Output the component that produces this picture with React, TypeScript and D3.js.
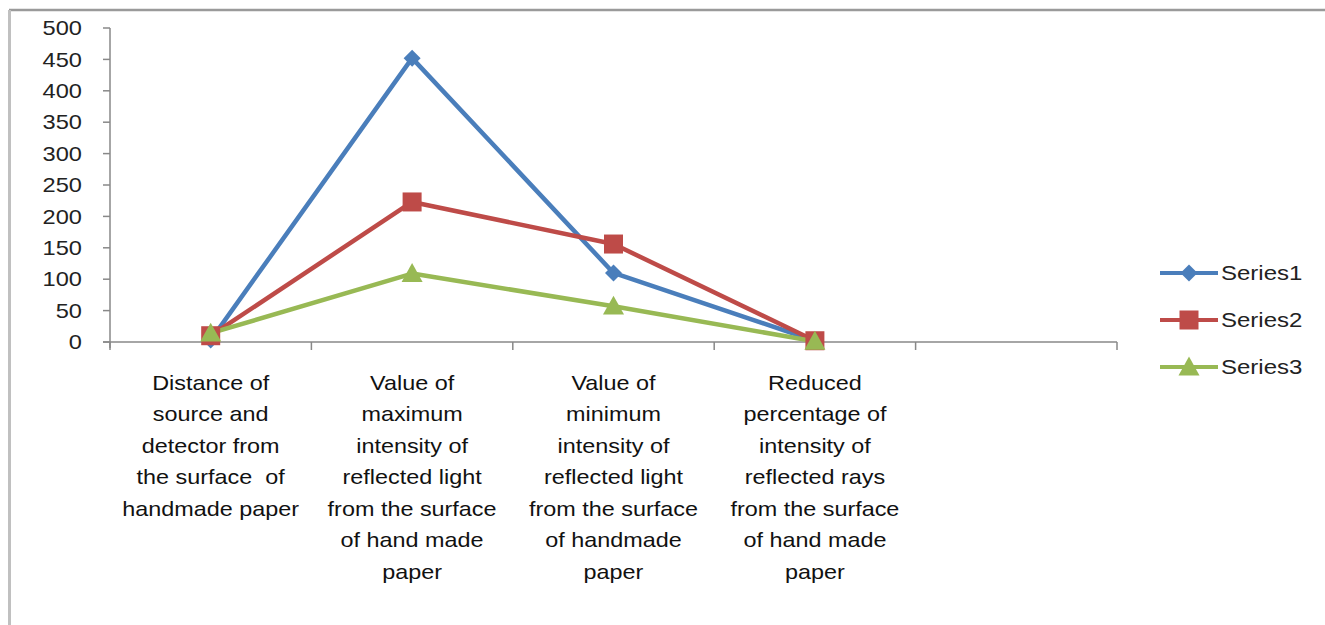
import React from "react";
import * as d3 from "d3";

const categories: string[][] = [
  ["Distance of", "source and", "detector from", "the surface  of", "handmade paper"],
  ["Value of", "maximum", "intensity of", "reflected light", "from the surface", "of hand made", "paper"],
  ["Value of", "minimum", "intensity of", "reflected light", "from the surface", "of handmade", "paper"],
  ["Reduced", "percentage of", "intensity of", "reflected rays", "from the surface", "of hand made", "paper"],
  [],
];
const series1 = [3, 452, 110, 2];
const series2 = [10, 223, 156, 2];
const series3 = [14, 109, 57, 1];
const seriesNames = ["Series1", "Series2", "Series3"];
const colors = ["#4A7EBB", "#BE4B48", "#98B954"];
const yTicks = [0, 50, 100, 150, 200, 250, 300, 350, 400, 450, 500];

const W = 1325, H = 625;
const left = 110, right = 1117, top = 28, bottom = 342;

function Marker({ kind, x, y, color }: { kind: number; x: number; y: number; color: string }) {
  if (kind === 0) {
    const s = 8.5;
    return <path d={`M${x},${y - s}L${x + s},${y}L${x},${y + s}L${x - s},${y}Z`} fill={color} />;
  }
  if (kind === 1) {
    const s = 9.5;
    return <rect x={x - s} y={y - s} width={2 * s} height={2 * s} fill={color} />;
  }
  const s = 10.5;
  return <path d={`M${x},${y - s}L${x + s},${y + s * 0.8}L${x - s},${y + s * 0.8}Z`} fill={color} />;
}

export default function App() {
  const x = d3.scaleBand<number>().domain(d3.range(categories.length)).range([left, right]).paddingInner(0).paddingOuter(0);
  const y = d3.scaleLinear().domain([0, 500]).range([bottom, top]);
  const all = [series1, series2, series3];
  const line = d3.line<number>().x((_, i) => (x(i) as number) + x.bandwidth() / 2).y((d) => y(d));
  const font = "'Liberation Sans', Arial, sans-serif";
  const boundaries = d3.range(categories.length + 1).map((i) => left + i * x.bandwidth());
  return (
    <svg width={W} height={H} style={{ position: "absolute", left: 0, top: 0 }} fontFamily={font}>
      <rect x={0} y={0} width={W} height={H} fill="#fff" />
      <line x1={9} y1={10} x2={W} y2={10} stroke="#9a9a9a" strokeWidth={2.5} />
      <line x1={9.5} y1={10} x2={9.5} y2={H} stroke="#c0c0c0" strokeWidth={3} />
      {/* y axis */}
      <line x1={left} y1={top} x2={left} y2={bottom + 6} stroke="#888" strokeWidth={1.5} />
      {yTicks.map((t) => (
        <g key={t}>
          <line x1={left - 7} x2={left} y1={y(t)} y2={y(t)} stroke="#888" strokeWidth={1.5} />
          <text x={82} y={y(t)} dy="0.36em" textAnchor="end" fontSize={20} fill="#222"
            transform={`translate(82,0) scale(1.18,1) translate(-82,0)`}>{t}</text>
        </g>
      ))}
      {/* x axis */}
      <line x1={left - 7} y1={bottom} x2={right} y2={bottom} stroke="#888" strokeWidth={1.5} />
      {boundaries.map((b, i) => (
        <line key={i} x1={b} x2={b} y1={bottom} y2={bottom + 8} stroke="#888" strokeWidth={1.5} />
      ))}
      {categories.map((lines, i) => {
        const cx = (x(i) as number) + x.bandwidth() / 2;
        return (
          <text key={i} textAnchor="middle" fontSize={20} fill="#111"
            transform={`translate(${cx},0) scale(1.17,1)`}>
            {lines.map((l, j) => (
              <tspan key={j} x={0} y={390 + j * 31.5} style={{ whiteSpace: "pre" }}>{l}</tspan>
            ))}
          </text>
        );
      })}
      {all.map((s, k) => (
        <path key={k} d={line(s) as string} fill="none" stroke={colors[k]} strokeWidth={4.5} strokeLinejoin="round" />
      ))}
      {all.map((s, k) =>
        s.map((v, i) => (
          <Marker key={`${k}-${i}`} kind={k} x={(x(i) as number) + x.bandwidth() / 2} y={y(v)} color={colors[k]} />
        ))
      )}
      {/* legend */}
      {seriesNames.map((n, k) => {
        const ly = 273 + k * 47;
        return (
          <g key={n}>
            <line x1={1160} x2={1218} y1={ly} y2={ly} stroke={colors[k]} strokeWidth={4} />
            <Marker kind={k} x={1189} y={ly} color={colors[k]} />
            <text x={1221} y={ly} dy="0.36em" fontSize={20} fill="#222"
              transform={`translate(1221,0) scale(1.2,1) translate(-1221,0)`}>{n}</text>
          </g>
        );
      })}
    </svg>
  );
}
